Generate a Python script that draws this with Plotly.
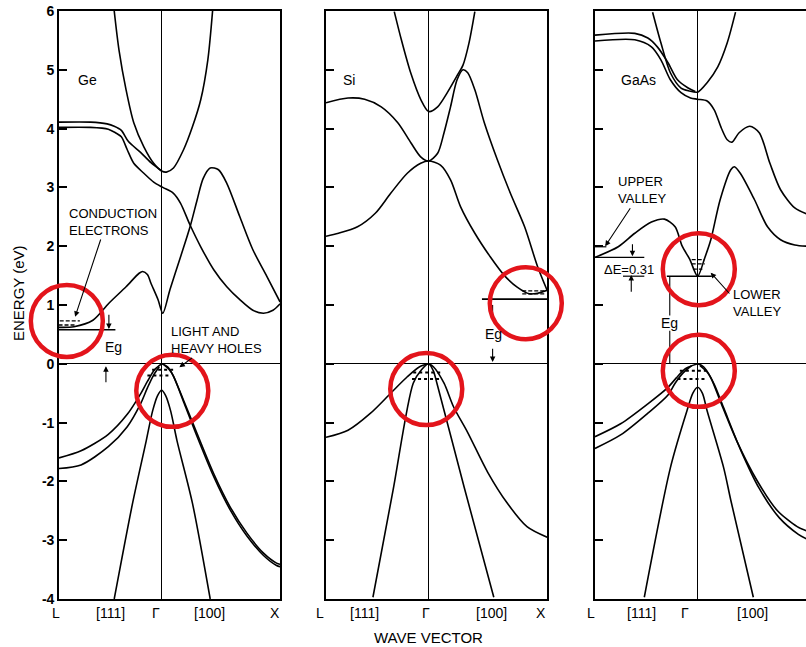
import plotly.graph_objects as go

# ---------------- data (k: L=-0.866, Gamma=0, X=1 ; E in eV) ----------------
# Ge conduction bands
ge_cb_top_k = [-0.40, -0.36, -0.30, -0.235, -0.15, -0.067, 0.0, 0.04, 0.10, 0.185, 0.26, 0.33, 0.39, 0.43]
ge_cb_top_e = [6.0, 5.34, 4.66, 4.10, 3.69, 3.41, 3.28, 3.26, 3.33, 3.64, 4.03, 4.49, 5.17, 6.0]
ge_cb_d1_k = [-0.866, -0.60, -0.46, -0.40, -0.34, -0.28, -0.18, -0.09, 0.0]
ge_cb_d1_e = [4.11, 4.11, 4.08, 4.04, 3.97, 3.78, 3.60, 3.42, 3.28]
ge_cb_d2_k = [-0.866, -0.60, -0.45, -0.39, -0.34, -0.29, -0.235, -0.15, -0.067, 0.01, 0.10, 0.16, 0.24, 0.33,
              0.44, 0.55, 0.66, 0.77, 0.86, 0.94, 1.0]
ge_cb_d2_e = [4.02, 4.02, 3.99, 3.93, 3.86, 3.64, 3.41, 3.24, 3.09, 3.0, 2.9, 2.73, 2.36, 1.99,
              1.60, 1.31, 1.09, 0.91, 0.86, 0.91, 1.02]
ge_cb_low_k = [-0.866, -0.74, -0.58, -0.445, -0.30, -0.19, -0.16, -0.12, -0.09, -0.03, 0.01, 0.07, 0.16, 0.24,
               0.30, 0.35, 0.41, 0.48, 0.55, 0.66, 0.77, 0.89, 1.0]
ge_cb_low_e = [0.62, 0.63, 0.74, 1.03, 1.31, 1.54, 1.57, 1.52, 1.37, 1.09, 0.86, 1.26, 1.82, 2.33,
               2.79, 3.15, 3.33, 3.30, 3.07, 2.50, 1.94, 1.48, 1.05]
# Ge valence bands
ge_vb_l1_k = [-0.866, -0.68, -0.45, -0.29, -0.18, -0.12, -0.06, 0.0]
ge_vb_l1_e = [-1.60, -1.48, -1.20, -0.86, -0.52, -0.30, -0.10, 0.0]
ge_vb_l2_k = [-0.866, -0.68, -0.45, -0.29, -0.18, -0.12, -0.07, -0.02]
ge_vb_l2_e = [-1.78, -1.72, -1.41, -1.07, -0.69, -0.41, -0.20, -0.05]
ge_vb_so_k = [-0.40, -0.245, -0.13, -0.076, -0.034, 0.0, 0.034, 0.076, 0.13, 0.26, 0.41]
ge_vb_so_e = [-4.0, -2.37, -1.31, -0.80, -0.54, -0.45, -0.54, -0.80, -1.31, -2.37, -4.0]
ge_vb_h1_k = [0.0, 0.05, 0.09, 0.185, 0.30, 0.44, 0.58, 0.72, 0.86, 0.97, 1.0]
ge_vb_h1_e = [0.0, -0.05, -0.17, -0.62, -1.19, -1.87, -2.44, -2.88, -3.22, -3.39, -3.41]
ge_vb_h2_k = [0.02, 0.06, 0.10, 0.19, 0.30, 0.44, 0.58, 0.72, 0.86, 0.97, 1.0]
ge_vb_h2_e = [-0.02, -0.09, -0.21, -0.67, -1.24, -1.92, -2.49, -2.93, -3.26, -3.43, -3.45]

# Si conduction bands
si_cb_top_k = [-0.29, -0.23, -0.15, -0.065, 0.0, 0.076, 0.16, 0.24, 0.29, 0.34, 0.39]
si_cb_top_e = [5.99, 5.51, 4.94, 4.49, 4.29, 4.37, 4.62, 4.90, 5.08, 5.45, 5.99]
si_cb_2_k = [-0.866, -0.68, -0.54, -0.40, -0.26, -0.15, -0.067, 0.0, 0.076, 0.13, 0.185, 0.24, 0.29, 0.33,
             0.39, 0.47, 0.58, 0.69, 0.81, 0.92, 1.0]
si_cb_2_e = [4.44, 4.52, 4.50, 4.37, 4.10, 3.76, 3.52, 3.45, 3.58, 3.93, 4.37, 4.83, 5.0, 4.95,
             4.66, 4.10, 3.47, 2.90, 2.33, 1.65, 1.25]
si_cb_3_k = [-0.866, -0.76, -0.60, -0.45, -0.32, -0.18, -0.067, 0.0, 0.10, 0.185, 0.27, 0.39, 0.52, 0.64,
             0.75, 0.85, 0.92, 1.0]
si_cb_3_e = [2.17, 2.22, 2.33, 2.56, 2.90, 3.24, 3.41, 3.45, 3.38, 3.13, 2.67, 2.22, 1.82, 1.50,
             1.30, 1.19, 1.20, 1.25]
# Si valence bands
si_vb_l_k = [-0.866, -0.68, -0.49, -0.32, -0.18, -0.076, 0.0]
si_vb_l_e = [-1.25, -1.13, -0.84, -0.50, -0.22, -0.05, 0.0]
si_vb_so_k = [-0.47, -0.30, -0.13, -0.06, 0.0, 0.04, 0.07, 0.30, 0.55]
si_vb_so_e = [-3.97, -2.15, -0.33, -0.10, 0.0, -0.12, -0.33, -2.10, -3.97]
si_vb_h_k = [0.0, 0.04, 0.13, 0.21, 0.33, 0.50, 0.66, 0.83, 1.0]
si_vb_h_e = [0.0, -0.05, -0.33, -0.73, -1.17, -1.85, -2.36, -2.77, -2.95]

# GaAs conduction bands
ga_cb_top_k = [-0.38, -0.31, -0.23, -0.14, -0.07, 0.0, 0.08, 0.17, 0.25, 0.32]
ga_cb_top_e = [5.98, 5.46, 4.95, 4.69, 4.64, 4.62, 4.78, 5.05, 5.46, 5.98]
ga_cb_d1_k = [-0.866, -0.53, -0.42, -0.34, -0.25, -0.17, -0.08, -0.02]
ga_cb_d1_e = [5.59, 5.62, 5.54, 5.39, 5.12, 4.83, 4.69, 4.63]
ga_cb_d2_k = [-0.866, -0.53, -0.39, -0.31, -0.23, -0.14, -0.06, 0.0, 0.08, 0.14, 0.20, 0.25, 0.29, 0.35,
              0.44, 0.52, 0.61, 0.70, 0.82, 0.92]
ga_cb_d2_e = [5.49, 5.51, 5.39, 5.17, 4.83, 4.61, 4.52, 4.50, 4.47, 4.32, 4.01, 3.81, 3.77, 3.93,
              4.04, 3.93, 3.41, 2.96, 2.65, 2.55]
ga_cb_low_k = [-0.866, -0.67, -0.53, -0.39, -0.28, -0.19, -0.13, -0.067, 0.0, 0.06, 0.11, 0.19, 0.28, 0.31,
               0.36, 0.48, 0.59, 0.70, 0.82, 0.92]
ga_cb_low_e = [1.81, 1.99, 2.22, 2.41, 2.46, 2.33, 2.0, 1.78, 1.49, 1.80, 2.10, 2.79, 3.30, 3.35,
               3.24, 2.79, 2.33, 2.11, 2.02, 2.0]
# GaAs valence bands
ga_vb_l1_k = [-0.866, -0.65, -0.42, -0.25, -0.18, -0.10, 0.0]
ga_vb_l1_e = [-1.24, -1.02, -0.68, -0.40, -0.24, -0.08, 0.0]
ga_vb_l2_k = [-0.866, -0.65, -0.42, -0.25, -0.19, -0.12, -0.05]
ga_vb_l2_e = [-1.44, -1.21, -0.84, -0.53, -0.33, -0.15, -0.03]
ga_vb_so_k = [-0.45, -0.23, -0.09, -0.04, 0.0, 0.04, 0.08, 0.22, 0.28, 0.47]
ga_vb_so_e = [-3.97, -1.77, -0.80, -0.50, -0.40, -0.50, -0.80, -1.77, -2.32, -3.97]
ga_vb_h1_k = [0.0, 0.05, 0.11, 0.19, 0.33, 0.50, 0.67, 0.84, 0.92]
ga_vb_h1_e = [0.0, -0.05, -0.23, -0.63, -1.31, -1.98, -2.49, -2.77, -2.84]
ga_vb_h2_k = [0.02, 0.08, 0.14, 0.22, 0.36, 0.52, 0.69, 0.85, 0.92]
ga_vb_h2_e = [-0.03, -0.14, -0.35, -0.75, -1.45, -2.12, -2.62, -2.90, -2.98]

# level lines (solid) and carrier dashes
ge_level_k, ge_level_e = [-0.866, -0.39], [0.58, 0.58]
si_level_k, si_level_e = [0.45, 1.0], [1.10, 1.10]
ga_lvl_L_k, ga_lvl_L_e = [-0.866, -0.45], [1.81, 1.81]
ga_lvl_G_k, ga_lvl_G_e = [-0.26, 0.12], [1.49, 1.49]
ga_lvl_T_k, ga_lvl_T_e = [-0.63, -0.45], [1.49, 1.49]
ga_lvl_U_k, ga_lvl_U_e = [-0.866, -0.77], [1.99, 1.99]
ge_elec_k = [[-0.86, -0.69], [-0.87, -0.72]]
ge_elec_e = [0.73, 0.66]
si_elec_k = [[0.79, 0.99], [0.79, 0.99]]
si_elec_e = [1.24, 1.19]
ga_elec_k = [[-0.05, 0.06], [-0.05, 0.06], [-0.04, 0.04]]
ga_elec_e = [1.77, 1.70, 1.61]
ge_hole_k = [[-0.08, 0.12], [-0.12, 0.06]]
ge_hole_e = [-0.10, -0.20]
si_hole_k = [[-0.13, 0.11], [-0.14, 0.11]]
si_hole_e = [-0.15, -0.26]
ga_hole_k = [[-0.15, 0.07], [-0.17, 0.08]]
ga_hole_e = [-0.12, -0.26]

# axis tick labels
y_ticks = [-4, -3, -2, -1, 0, 1, 2, 3, 4, 5, 6]
y_ticktext = ['-4', '-3', '-2', '-1', '0', '1', '2', '3', '4', '5', '6']
k_labels = ['L', '[111]', 'Γ', '[100]', 'X']
ge_label_k = [-0.89, -0.43, -0.05, 0.40, 0.96]
si_label_k = [-0.92, -0.54, -0.02, 0.53, 0.95]
ga_label_k = [-0.90, -0.47, -0.11, 0.46, 1.2]

# red circle centres (k, E) per panel
circles = [('ge', -0.80, 0.73), ('ge', 0.09, -0.46), ('si', 0.82, 1.03),
           ('si', -0.02, -0.43), ('ga', 0.01, 1.61), ('ga', 0.01, -0.12)]

# ---------------- layout geometry (screen pixels) ----------------
W, H = 806, 647
OFF = 0                        # page body margin is removed by post_script
S = 118.5                      # px per k unit
K_L, K_X = -0.866, 1.0
PX_L = {'ge': 59, 'si': 326, 'ga': 595}
Y_TOP, Y_BOT = 11, 599
E_MIN, E_MAX = -4, 6
AX = {'ge': ('x', 'y'), 'si': ('x2', 'y2'), 'ga': ('x3', 'y3')}
FONT = 'Liberation Sans'


def px(x):
    return (x - OFF) / W


def py(y):
    return 1 - (y - OFF) / H


def xgeom(p):
    x0 = PX_L[p]
    x1 = min(W, x0 + S * (K_X - K_L))
    return [px(x0), px(x1)], [K_L, K_L + (x1 - x0) / S]


YDOM = [py(Y_BOT), py(Y_TOP)]


def to_paper(p, k, e):
    dom, rng = xgeom(p)
    xp = dom[0] + (k - rng[0]) / (rng[1] - rng[0]) * (dom[1] - dom[0])
    yp = YDOM[0] + (e - E_MIN) / (E_MAX - E_MIN) * (YDOM[1] - YDOM[0])
    return xp, yp


fig = go.Figure()


def curve(p, k, e, width=1.6, dash=None, shape='spline'):
    xa, ya = AX[p]
    fig.add_trace(go.Scatter(x=k, y=e, mode='lines', xaxis=xa, yaxis=ya, hoverinfo='skip',
                             line=dict(color='black', width=width, shape=shape, smoothing=0.8,
                                       dash=dash)))


for k, e in [(ge_cb_top_k, ge_cb_top_e), (ge_cb_d1_k, ge_cb_d1_e), (ge_cb_d2_k, ge_cb_d2_e),
             (ge_cb_low_k, ge_cb_low_e), (ge_vb_l1_k, ge_vb_l1_e), (ge_vb_l2_k, ge_vb_l2_e),
             (ge_vb_so_k, ge_vb_so_e), (ge_vb_h1_k, ge_vb_h1_e), (ge_vb_h2_k, ge_vb_h2_e)]:
    curve('ge', k, e)
for k, e in [(si_cb_top_k, si_cb_top_e), (si_cb_2_k, si_cb_2_e), (si_cb_3_k, si_cb_3_e),
             (si_vb_l_k, si_vb_l_e), (si_vb_so_k, si_vb_so_e), (si_vb_h_k, si_vb_h_e)]:
    curve('si', k, e)
for k, e in [(ga_cb_top_k, ga_cb_top_e), (ga_cb_d1_k, ga_cb_d1_e), (ga_cb_d2_k, ga_cb_d2_e),
             (ga_cb_low_k, ga_cb_low_e), (ga_vb_l1_k, ga_vb_l1_e), (ga_vb_l2_k, ga_vb_l2_e),
             (ga_vb_so_k, ga_vb_so_e), (ga_vb_h1_k, ga_vb_h1_e), (ga_vb_h2_k, ga_vb_h2_e)]:
    curve('ga', k, e)

# level lines
curve('ge', ge_level_k, ge_level_e, 1.4, shape='linear')
curve('si', si_level_k, si_level_e, 1.6, shape='linear')
curve('ga', ga_lvl_L_k, ga_lvl_L_e, 1.4, shape='linear')
curve('ga', ga_lvl_G_k, ga_lvl_G_e, 1.4, shape='linear')
curve('ga', ga_lvl_T_k, ga_lvl_T_e, 1.2, shape='linear')
curve('ga', ga_lvl_U_k, ga_lvl_U_e, 1.2, shape='linear')
# Eg / dimension lines
curve('ga', [-0.235, -0.235], [1.49, 0.82], 1.1, shape='linear')
curve('ga', [-0.235, -0.235], [0.56, 0.0], 1.1, shape='linear')
curve('si', [0.54, 0.54], [1.0, 0.85], 1.1, shape='linear')

# carrier dashes
for p, ks, es in [('ge', ge_elec_k, ge_elec_e), ('si', si_elec_k, si_elec_e), ('ga', ga_elec_k, ga_elec_e)]:
    for k, e in zip(ks, es):
        curve(p, k, [e, e], 1.3, dash='4px,2px', shape='linear')
for p, ks, es in [('ge', ge_hole_k, ge_hole_e), ('si', si_hole_k, si_hole_e), ('ga', ga_hole_k, ga_hole_e)]:
    for k, e in zip(ks, es):
        curve(p, k, [e, e], 2.0, dash='3px,3px', shape='linear')

# ---------------- axes ----------------
layout = dict(width=W, height=H, margin=dict(l=0, r=0, t=0, b=0, autoexpand=False),
              paper_bgcolor='white', plot_bgcolor='white', showlegend=False)
for i, p in enumerate(['ge', 'si', 'ga']):
    dom, rng = xgeom(p)
    sfx = '' if i == 0 else str(i + 1)
    layout['xaxis' + sfx] = dict(domain=dom, range=rng, showline=True, mirror=True, linecolor='black',
                                 linewidth=1.6, showticklabels=False, ticks='', showgrid=False,
                                 zeroline=True, zerolinecolor='black', zerolinewidth=1.1,
                                 anchor='y' + sfx, fixedrange=True)
    layout['yaxis' + sfx] = dict(domain=YDOM, range=[E_MIN, E_MAX], showline=True,
                                 mirror=(p != 'ga'), linecolor='black', linewidth=1.6,
                                 tickvals=y_ticks, ticktext=y_ticktext, ticks='inside', ticklen=8,
                                 tickwidth=1.6, tickcolor='black', showticklabels=(p == 'ge'),
                                 ticklabeloverflow='allow',
                                 tickfont=dict(family=FONT, size=14, color='black', weight='bold'),
                                 showgrid=False, zeroline=True, zerolinecolor='black',
                                 zerolinewidth=1.3, anchor='x' + sfx, fixedrange=True)

ann = []
# bottom k labels
for p, ks in [('ge', ge_label_k), ('si', si_label_k), ('ga', ga_label_k)]:
    for k, t in zip(ks, k_labels):
        xp = to_paper(p, k, 0)[0]
        if xp > 1:
            continue
        ann.append(dict(x=xp, y=py(613), xref='paper', yref='paper', text=t, showarrow=False,
                        xanchor='center', yanchor='middle',
                        font=dict(family=FONT, size=14, color='black')))
ann.append(dict(x=px(428), y=py(637), xref='paper', yref='paper', text='WAVE VECTOR',
                showarrow=False, xanchor='center', yanchor='middle',
                font=dict(family=FONT, size=15, color='black')))
ann.append(dict(x=px(18), y=py(293), xref='paper', yref='paper', text='ENERGY (eV)', textangle=-90,
                showarrow=False, xanchor='center', yanchor='middle',
                font=dict(family=FONT, size=15, color='black')))


def label(p, k, e, t, xanchor='left', align='left', size=13):
    xp, yp = to_paper(p, k, e)
    ann.append(dict(x=xp, y=yp, xref='paper', yref='paper', text=t, showarrow=False, xanchor=xanchor,
                    yanchor='middle', align=align, font=dict(family=FONT, size=size, color='black')))


def arrow(p, k0, e0, k1, e1, head=2, width=1.1):
    ann.append(dict(x=k1, y=e1, ax=k0, ay=e0, xref=AX[p][0], yref=AX[p][1], axref=AX[p][0],
                    ayref=AX[p][1], text='', showarrow=True, arrowhead=head, arrowsize=1,
                    arrowwidth=width, arrowcolor='black'))


label('ge', -0.72, 4.83, 'Ge', size=14)
label('si', -0.74, 4.83, 'Si', size=14)
label('ga', -0.66, 4.83, 'GaAs', size=14)
label('ge', -0.80, 2.42, 'CONDUCTION<br>ELECTRONS')
arrow('ge', -0.51, 2.14, -0.73, 0.80)
label('ge', 0.06, 0.40, 'LIGHT AND<br>HEAVY HOLES')
arrow('ge', 0.27, 0.12, 0.15, -0.06)
label('ge', -0.41, 0.29, 'Eg', xanchor='center', size=14)
arrow('ge', -0.445, 0.86, -0.445, 0.59)
arrow('ge', -0.47, -0.34, -0.47, -0.04)
label('si', 0.55, 0.51, 'Eg', xanchor='center', size=14)
arrow('si', 0.54, 0.28, 0.54, 0.03)
label('ga', -0.24, 0.69, 'Eg', xanchor='center', size=14)
label('ga', -0.69, 2.95, 'UPPER<br>VALLEY')
arrow('ga', -0.56, 2.67, -0.78, 2.0)
label('ga', -0.81, 1.61, 'ΔE=0.31')
arrow('ga', -0.55, 2.06, -0.55, 1.83)
arrow('ga', -0.56, 1.20, -0.56, 1.51)
label('ga', 0.28, 1.03, 'LOWER<br>VALLEY')
arrow('ga', 0.28, 1.17, 0.11, 1.55)
layout['annotations'] = ann

shapes = []
R = 36
for p, k, e in circles:
    cx, cy = to_paper(p, k, e)
    shapes.append(dict(type='circle', xref='paper', yref='paper', x0=cx - R / W, x1=cx + R / W,
                       y0=cy - R / H, y1=cy + R / H, line=dict(color='#e3141b', width=4.5)))
layout['shapes'] = shapes

fig.update_layout(**layout)
fig.write_html('out.html', config={'displayModeBar': False},
               post_script="document.body.style.margin='0px';")
